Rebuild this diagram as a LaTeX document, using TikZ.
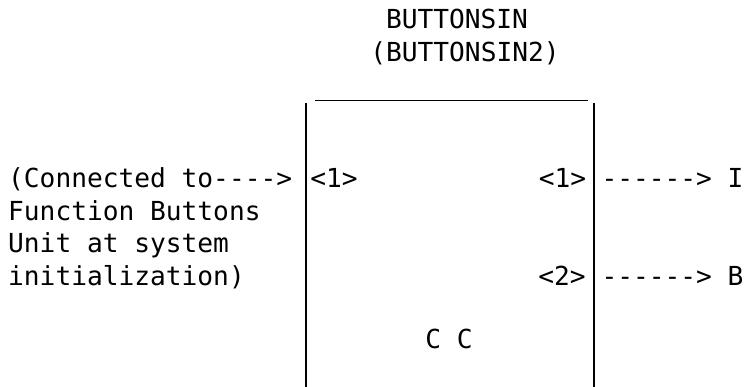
\documentclass[tikz,border=0pt]{standalone}
\usepackage{fontspec}
\setmonofont{DejaVu Sans Mono}
\begin{document}
\begin{tikzpicture}[x=1pt,y=-1pt,
  txt/.style={inner sep=0pt, font=\ttfamily\fontsize{26.2}{33}\selectfont},
  lft/.style={txt, anchor=base west},
  ctr/.style={txt, anchor=base},
  side/.style={line width=2.2pt},
  topline/.style={line width=1.4pt}]
\useasboundingbox (0,0) rectangle (750,387);
\fill[white] (0,0) rectangle (750,387);
% box
\coordinate (lt) at (306,103);
\coordinate (lb) at (306,387);
\coordinate (rt) at (594,103);
\coordinate (rb) at (594,387);
\coordinate (tl) at (315,100.5);
\coordinate (tr) at (588,100.5);
\draw[side] (lt) -- (lb);
\draw[side] (rt) -- (rb);
\draw[topline] (tl) -- (tr);
% titles
\node[ctr] (title1) at (457,29) {BUTTONSIN};
\node[ctr] (title2) at (465,62) {(BUTTONSIN2)};
% left text
\node[lft] (l1) at (8,188) {(Connected to---->};
\node[lft] (l2) at (8,220.5) {Function Buttons};
\node[lft] (l3) at (8,253) {Unit at system};
\node[lft] (l4) at (8,285.5) {initialization)};
% ports
\node[ctr] (in1) at (334,188) {<1>};
\node[ctr] (out1) at (562.5,188) {<1>};
\node[ctr] (out2) at (562,285.5) {<2>};
\node[ctr] (a1) at (672.5,188) {------> I};
\node[ctr] (a2) at (672.5,285.5) {------> B};
\node[ctr] (cc) at (449,349) {C C};
\end{tikzpicture}
\end{document}
